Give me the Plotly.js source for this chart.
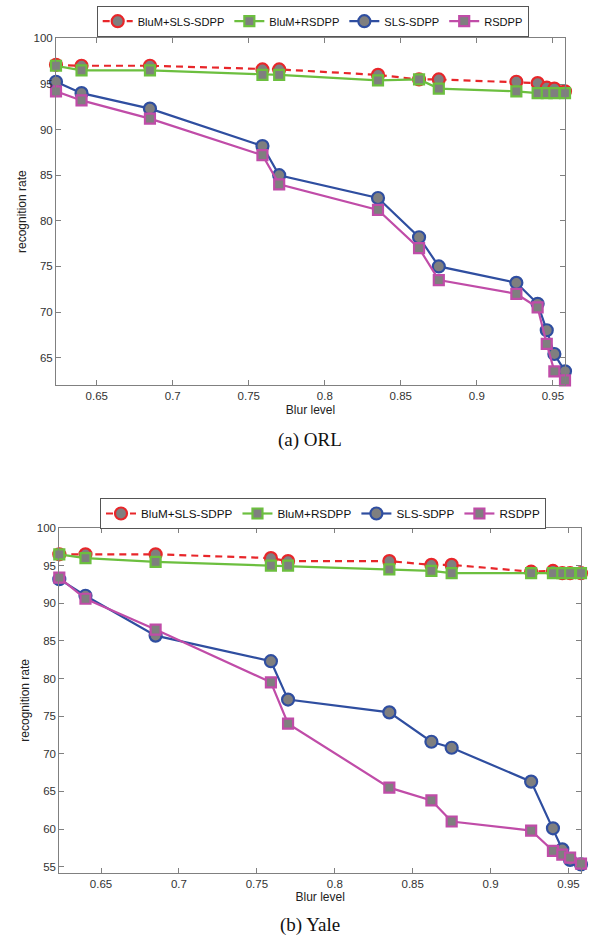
<!DOCTYPE html>
<html>
<head>
<meta charset="utf-8">
<script src="https://cdn.plot.ly/plotly-3.0.1.min.js"></script>
<style>html,body{margin:0;padding:0;background:#fff;}#chart{width:591px;height:945px;}</style>
</head>
<body>
<div id="chart"></div>
<script>
// ---- data ----
const blurLevels = [0.6232, 0.64, 0.685, 0.759, 0.77, 0.835, 0.862, 0.875, 0.926, 0.94, 0.946, 0.951, 0.958];
const seriesNames = ["BluM+SLS-SDPP", "BluM+RSDPP", "SLS-SDPP", "RSDPP"];

const orlBlumSls = [97.1, 97.0, 97.0, 96.6, 96.6, 96.0, 95.5, 95.5, 95.25, 95.1, 94.6, 94.5, 94.2];
const orlBlumR   = [97.0, 96.5, 96.5, 96.0, 96.0, 95.4, 95.5, 94.5, 94.2, 94.0, 94.0, 94.0, 94.0];
const orlSls     = [95.25, 94.0, 92.3, 88.2, 85.0, 82.5, 78.2, 75.0, 73.2, 70.9, 68.0, 65.4, 63.5];
const orlR       = [94.2, 93.2, 91.2, 87.2, 84.0, 81.2, 77.0, 73.5, 72.0, 70.5, 66.5, 63.5, 62.5];

const yaleBlumSls = [96.5, 96.5, 96.5, 96.0, 95.6, 95.6, 95.1, 95.1, 94.2, 94.3, 94.0, 94.0, 94.0];
const yaleBlumR   = [96.5, 96.0, 95.5, 95.0, 95.0, 94.5, 94.3, 94.0, 94.0, 94.0, 94.0, 94.0, 94.0];
const yaleSls     = [93.2, 91.0, 85.7, 82.3, 77.2, 75.5, 71.6, 70.8, 66.3, 60.1, 57.3, 55.9, 55.3];
const yaleR       = [93.4, 90.6, 86.5, 79.5, 74.0, 65.5, 63.8, 61.0, 59.8, 57.1, 56.6, 56.2, 55.4];

const xTickVals = [0.65, 0.7, 0.75, 0.8, 0.85, 0.9, 0.95];
const xTickText = ["0.65", "0.7", "0.75", "0.8", "0.85", "0.9", "0.95"];
const captions = ["(a) ORL", "(b) Yale"];
const xTitle = "Blur level";
const yTitle = "recognition rate";

// ---- styles ----
const gray = "#7f7f7f";
const styles = [
  {color: "#e8262a", symbol: "circle", size: 12, dash: "7px,5px"},
  {color: "#6cbf3f", symbol: "square", size: 10, dash: "solid"},
  {color: "#2f4ea0", symbol: "circle", size: 12, dash: "solid"},
  {color: "#c04ca8", symbol: "square", size: 10, dash: "solid"}
];

function mk(ys, i, xa, ya, leg) {
  const s = styles[i];
  return {
    x: blurLevels, y: ys, type: "scatter", mode: "lines+markers",
    name: seriesNames[i], xaxis: xa, yaxis: ya, legend: leg, cliponaxis: false,
    line: {color: s.color, width: 2.2, dash: s.dash},
    marker: {symbol: s.symbol, size: s.size, color: gray, line: {color: s.color, width: 2.2}}
  };
}

const data = [
  mk(orlBlumSls, 0, "x", "y", "legend"),
  mk(orlBlumR, 1, "x", "y", "legend"),
  mk(orlSls, 2, "x", "y", "legend"),
  mk(orlR, 3, "x", "y", "legend"),
  mk(yaleBlumSls, 0, "x2", "y2", "legend2"),
  mk(yaleBlumR, 1, "x2", "y2", "legend2"),
  mk(yaleSls, 2, "x2", "y2", "legend2"),
  mk(yaleR, 3, "x2", "y2", "legend2")
];

const tickFont = {family: "Liberation Sans, Arial, sans-serif", size: 11.5, color: "#333"};
const titleFont = {family: "Liberation Sans, Arial, sans-serif", size: 12, color: "#222"};
const axBase = {
  showline: true, linecolor: "#808080", linewidth: 1, mirror: "ticks",
  ticks: "inside", ticklen: 5, tickcolor: "#808080", showgrid: false, zeroline: false,
  tickfont: tickFont
};

const W = 591, H = 945;
const layout = {
  width: W, height: H,
  margin: {l: 0, r: 0, t: 0, b: 0},
  paper_bgcolor: "#fff", plot_bgcolor: "#fff",
  font: {family: "Liberation Sans, Arial, sans-serif"},
  xaxis: Object.assign({}, axBase, {domain: [56/W, 565/W], range: [0.6232, 0.958], anchor: "y",
    tickvals: xTickVals, ticktext: xTickText, title: {text: xTitle, font: titleFont, standoff: 4}}),
  yaxis: Object.assign({}, axBase, {domain: [1-385/H, 1-38.4/H], range: [62, 100], anchor: "x", dtick: 5,
    title: {text: yTitle, font: titleFont, standoff: 4}}),
  xaxis2: Object.assign({}, axBase, {domain: [59.3/W, 581/W], range: [0.6232, 0.958], anchor: "y2",
    tickvals: xTickVals, ticktext: xTickText, title: {text: xTitle, font: titleFont, standoff: 4}}),
  yaxis2: Object.assign({}, axBase, {domain: [1-872.7/H, 1-528/H], range: [54.2, 100], anchor: "x2", dtick: 5,
    title: {text: yTitle, font: titleFont, standoff: 4}}),
  legend: {orientation: "h", x: 96.7/W, xanchor: "left", y: 1-5.7/H, yanchor: "top",
    bordercolor: "#555", borderwidth: 1, bgcolor: "#fff",
    font: {family: "Liberation Sans, Arial, sans-serif", size: 11.1, color: "#111"}},
  legend2: {orientation: "h", x: 100/W, xanchor: "left", y: 1-498/H, yanchor: "top",
    bordercolor: "#555", borderwidth: 1, bgcolor: "#fff",
    font: {family: "Liberation Sans, Arial, sans-serif", size: 11.7, color: "#111"}},
  annotations: [
    {text: captions[0], xref: "paper", yref: "paper", x: 310/W, y: 1-440/H, showarrow: false,
     xanchor: "center", yanchor: "middle", font: {family: "Liberation Serif, Times New Roman, serif", size: 19, color: "#111"}},
    {text: captions[1], xref: "paper", yref: "paper", x: 310/W, y: 1-925/H, showarrow: false,
     xanchor: "center", yanchor: "middle", font: {family: "Liberation Serif, Times New Roman, serif", size: 19, color: "#111"}}
  ]
};

Plotly.newPlot("chart", data, layout, {staticPlot: true, displayModeBar: false});
</script>
</body>
</html>
